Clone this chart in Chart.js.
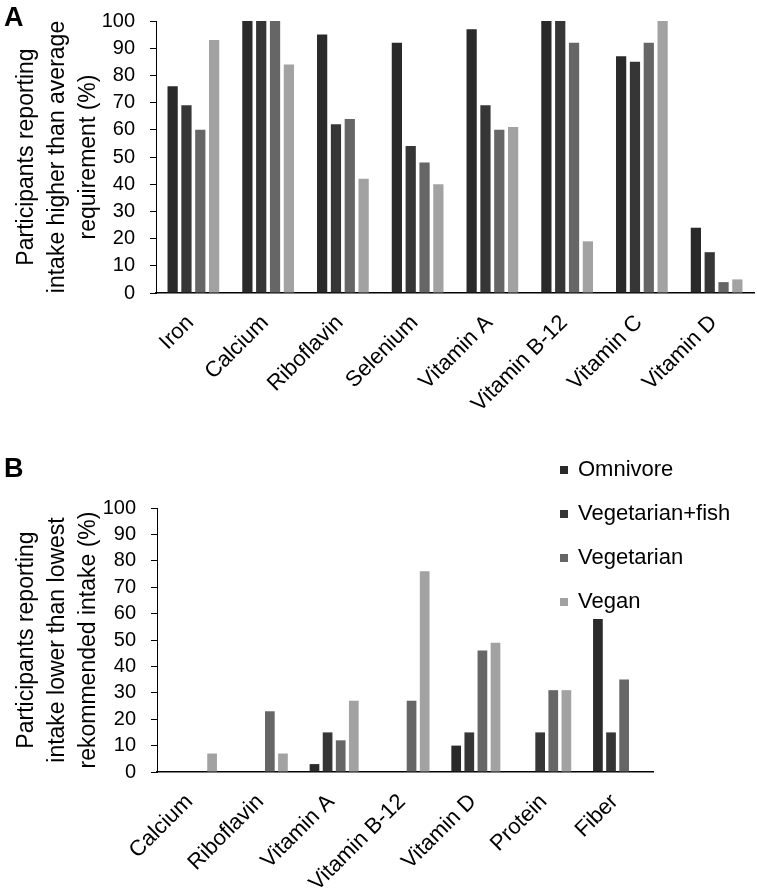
<!DOCTYPE html>
<html>
<head>
<meta charset="utf-8">
<script src="https://cdn.jsdelivr.net/npm/chart.js@4.4.1/dist/chart.umd.min.js"></script>
<style>
  body { margin: 0; background: #fff; width: 757px; height: 892px; position: relative; overflow: hidden; font-family: "Liberation Sans", Arial, sans-serif; }
  .letter { position: absolute; font-weight: bold; font-size: 27px; color: #000; line-height: 1; }
  #wrapA { position: absolute; left: 0; top: 0; width: 757px; height: 445px; }
  #wrapB { position: absolute; left: 0; top: 445px; width: 757px; height: 447px; }
</style>
</head>
<body>
<div id="wrapA"><canvas id="chartA"></canvas></div>
<div id="wrapB"><canvas id="chartB"></canvas></div>
<div class="letter" style="left:4px; top:4px;">A</div>
<div class="letter" style="left:4px; top:455px;">B</div>
<script>
// groupes alimentaires
const groups = ['Omnivore', 'Vegetarian+fish', 'Vegetarian', 'Vegan'];
const groupColors = ['#2a2a2a', '#363636', '#666666', '#a2a2a2'];

// Panel A: intake higher than average requirement (%)
const nutrientsA = ['Iron', 'Calcium', 'Riboflavin', 'Selenium', 'Vitamin A', 'Vitamin B-12', 'Vitamin C', 'Vitamin D'];
const omnivoreA   = [76, 100, 95, 92, 97, 100, 87, 24];
const vegFishA    = [69, 100, 62, 54, 69, 100, 85, 15];
const vegetarianA = [60, 100, 64, 48, 60, 92, 92, 4];
const veganA      = [93, 84, 42, 40, 61, 19, 100, 5];

// Panel B: intake lower than lowest recommended intake (%)
const nutrientsB = ['Calcium', 'Riboflavin', 'Vitamin A', 'Vitamin B-12', 'Vitamin D', 'Protein', 'Fiber'];
const omnivoreB   = [0, 0, 3, 0, 10, 0, 58];
const vegFishB    = [0, 0, 15, 0, 15, 15, 15];
const vegetarianB = [0, 23, 12, 27, 46, 31, 35];
const veganB      = [7, 7, 27, 76, 49, 31, 0];

const yMin = 0;
const yMax = 100;
const yStep = 10;

const titleA = ['Participants reporting', 'intake higher than average', 'requirement (%)'];
const titleB = ['Participants reporting', 'intake lower than lowest', 'rekommended intake (%)'];

const FONT = '"Liberation Sans", Arial, sans-serif';

function makeDatasets(series) {
    return series.map((values, i) => ({
        label: groups[i],
        data: values,
        backgroundColor: groupColors[i],
        borderWidth: 0,
        categoryPercentage: 0.74,
        barPercentage: 0.74
    }));
}

function makeOptions(title, yWidth, xHeight, padRight, padTop) {
    return {
        responsive: true,
        maintainAspectRatio: false,
        animation: false,
        layout: { padding: { top: padTop, right: padRight, bottom: 0, left: 0 } },
        plugins: {
            legend: { display: false },
            tooltip: { enabled: false }
        },
        scales: {
            x: {
                grid: { display: false, drawTicks: false },
                border: { display: true, color: '#000', width: 1.5 },
                ticks: {
                    color: '#000',
                    font: { family: FONT, size: 22 },
                    maxRotation: 45,
                    minRotation: 45,
                    autoSkip: false,
                    padding: 17,
                    labelOffset: -3
                },
                afterFit: (scale) => { scale.height = xHeight; }
            },
            y: {
                min: yMin,
                max: yMax,
                grid: { drawOnChartArea: false, drawTicks: true, tickLength: 6, color: '#000' },
                border: { display: true, color: '#000', width: 1 },
                ticks: {
                    stepSize: yStep,
                    autoSkip: false,
                    color: '#000',
                    font: { family: FONT, size: 20 },
                    padding: 15
                },
                title: {
                    display: true,
                    text: title,
                    color: '#000',
                    font: { family: FONT, size: 23, lineHeight: 1.35 },
                    padding: { top: 11, bottom: 0 }
                },
                afterFit: (scale) => {
                    scale.width = yWidth;
                    scale.paddingTop = 0;
                }
            }
        }
    };
}

// légende desenhada à mão, ao lado direito do painel B
const legendB = {
    id: 'legendB',
    afterDraw(chart) {
        const ctx = chart.ctx;
        ctx.save();
        ctx.font = '22px ' + FONT;
        ctx.textBaseline = 'middle';
        ctx.textAlign = 'left';
        chart.data.datasets.forEach((ds, i) => {
            const y = 25 + i * 44;
            ctx.fillStyle = ds.backgroundColor;
            ctx.fillRect(560, y - 4, 8, 8);
            ctx.fillStyle = '#000';
            ctx.fillText(ds.label, 578, y);
        });
        ctx.restore();
    }
};

new Chart(document.getElementById('chartA'), {
    type: 'bar',
    data: {
        labels: nutrientsA,
        datasets: makeDatasets([omnivoreA, vegFishA, vegetarianA, veganA])
    },
    options: makeOptions(titleA, 156, 152, 3, 21)
});

new Chart(document.getElementById('chartB'), {
    type: 'bar',
    data: {
        labels: nutrientsB,
        datasets: makeDatasets([omnivoreB, vegFishB, vegetarianB, veganB])
    },
    options: makeOptions(titleB, 157, 120, 104, 63),
    plugins: [legendB]
});
</script>
</body>
</html>
